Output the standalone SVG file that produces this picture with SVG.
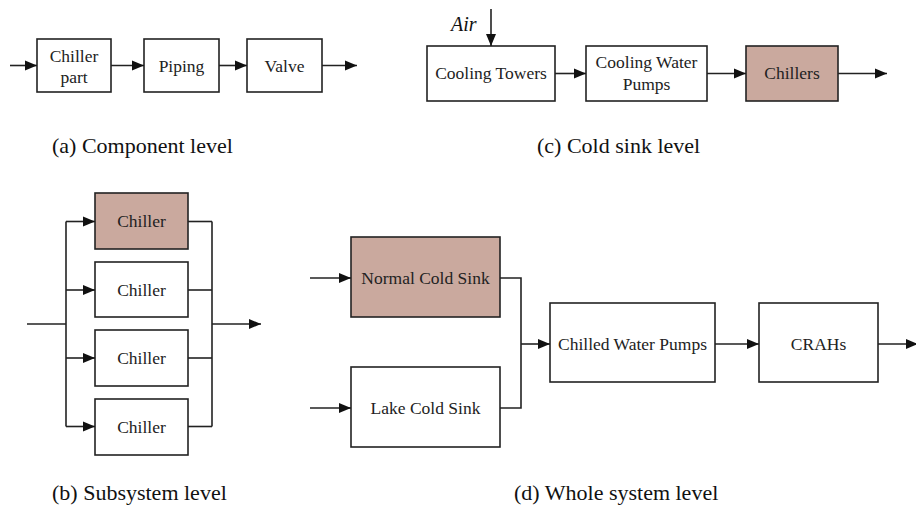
<svg xmlns="http://www.w3.org/2000/svg" width="916" height="507" viewBox="0 0 916 507">
  <style>
    .box { fill: #ffffff; stroke: #222; stroke-width: 1.6; }
    .hot { fill: #caa99e; }
    .serif { font-family: "Liberation Serif", Tinos, "Times New Roman", Times, "DejaVu Serif", serif; }
    .lbl { font-size: 17.5px; fill: #222; text-anchor: middle; }
    .cap { font-size: 22px; fill: #111; }
    .ln { fill: none; stroke: #222; stroke-width: 1.6; }
    .arr { fill: none; stroke: #222; stroke-width: 1.6; marker-end: url(#ah); }
  </style>
  <defs>
    <marker id="ah" markerUnits="userSpaceOnUse" markerWidth="12" markerHeight="12" viewBox="0 0 12 12" refX="12" refY="6" orient="auto">
      <path d="M0,1 L12,6 L0,11 Z" fill="#111"/>
    </marker>
  </defs>
  <rect width="916" height="507" fill="#ffffff"/>

  <g class="serif">
  <!-- (a) component level -->
  <g id="a-chiller-part">
    <rect class="box" x="37" y="39" width="74" height="53"/>
    <text class="lbl" x="74" y="62">Chiller</text>
    <text class="lbl" x="74" y="83">part</text>
  </g>
  <g id="a-piping">
    <rect class="box" x="144" y="39" width="75" height="53"/>
    <text class="lbl" x="181.5" y="72">Piping</text>
  </g>
  <g id="a-valve">
    <rect class="box" x="247" y="39" width="75" height="53"/>
    <text class="lbl" x="284.5" y="72">Valve</text>
  </g>

  <!-- (c) cold sink level -->
  <g id="c-cooling-towers">
    <rect class="box" x="427" y="46" width="128" height="55"/>
    <text class="lbl" x="491" y="79">Cooling Towers</text>
  </g>
  <g id="c-cooling-water-pumps">
    <rect class="box" x="586" y="46" width="121" height="55"/>
    <text class="lbl" x="646.5" y="68">Cooling Water</text>
    <text class="lbl" x="646.5" y="90">Pumps</text>
  </g>
  <g id="c-chillers">
    <rect class="box hot" x="746" y="46" width="92" height="55"/>
    <text class="lbl" x="792" y="79">Chillers</text>
  </g>
  <text id="c-air" x="451" y="31" font-style="italic" font-size="20" fill="#111">Air</text>

  <!-- (b) subsystem level -->
  <g id="b-chiller-1">
    <rect class="box hot" x="95" y="193" width="93" height="56"/>
    <text class="lbl" x="141.5" y="227">Chiller</text>
  </g>
  <g id="b-chiller-2">
    <rect class="box" x="95" y="262" width="93" height="55"/>
    <text class="lbl" x="141.5" y="296">Chiller</text>
  </g>
  <g id="b-chiller-3">
    <rect class="box" x="95" y="330" width="93" height="56"/>
    <text class="lbl" x="141.5" y="364">Chiller</text>
  </g>
  <g id="b-chiller-4">
    <rect class="box" x="95" y="399" width="93" height="56"/>
    <text class="lbl" x="141.5" y="433">Chiller</text>
  </g>

  <!-- (d) whole system level -->
  <g id="d-normal-cold-sink">
    <rect class="box hot" x="351" y="237" width="149" height="80"/>
    <text class="lbl" x="425.5" y="284">Normal Cold Sink</text>
  </g>
  <g id="d-lake-cold-sink">
    <rect class="box" x="351" y="367" width="149" height="80"/>
    <text class="lbl" x="425.5" y="414">Lake Cold Sink</text>
  </g>
  <g id="d-chilled-water-pumps">
    <rect class="box" x="550" y="303" width="165" height="79"/>
    <text class="lbl" x="632.5" y="350">Chilled Water Pumps</text>
  </g>
  <g id="d-crahs">
    <rect class="box" x="759" y="303" width="119" height="79"/>
    <text class="lbl" x="818.5" y="350">CRAHs</text>
  </g>

  <!-- captions -->
  <text class="cap" x="52" y="153">(a) Component level</text>
  <text class="cap" x="537" y="153">(c) Cold sink level</text>
  <text class="cap" x="52" y="500">(b) Subsystem level</text>
  <text class="cap" x="514" y="500">(d) Whole system level</text>
  </g>

  <!-- connectors -->
  <g id="connectors">
    <!-- (a) -->
    <line class="arr" x1="10" y1="65.5" x2="37" y2="65.5"/>
    <line class="arr" x1="111" y1="65.5" x2="144" y2="65.5"/>
    <line class="arr" x1="219" y1="65.5" x2="247" y2="65.5"/>
    <line class="arr" x1="322" y1="65.5" x2="357" y2="65.5"/>
    <!-- (c) -->
    <line class="arr" x1="491" y1="9" x2="491" y2="46"/>
    <line class="arr" x1="555" y1="73.5" x2="586" y2="73.5"/>
    <line class="arr" x1="707" y1="73.5" x2="746" y2="73.5"/>
    <line class="arr" x1="838" y1="73.5" x2="887" y2="73.5"/>
    <!-- (b) -->
    <line class="ln" x1="27" y1="324" x2="66" y2="324"/>
    <line class="ln" x1="66" y1="221.5" x2="66" y2="426.5"/>
    <line class="arr" x1="66" y1="221.5" x2="95" y2="221.5"/>
    <line class="arr" x1="66" y1="290" x2="95" y2="290"/>
    <line class="arr" x1="66" y1="358" x2="95" y2="358"/>
    <line class="arr" x1="66" y1="426.5" x2="95" y2="426.5"/>
    <line class="ln" x1="188" y1="221.5" x2="212" y2="221.5"/>
    <line class="ln" x1="188" y1="290" x2="212" y2="290"/>
    <line class="ln" x1="188" y1="358" x2="212" y2="358"/>
    <line class="ln" x1="188" y1="426.5" x2="212" y2="426.5"/>
    <line class="ln" x1="212" y1="221.5" x2="212" y2="426.5"/>
    <line class="arr" x1="212" y1="324" x2="261" y2="324"/>
    <!-- (d) -->
    <line class="arr" x1="310" y1="278" x2="351" y2="278"/>
    <line class="arr" x1="310" y1="408" x2="351" y2="408"/>
    <polyline class="ln" points="500,278 521,278 521,408 500,408"/>
    <line class="arr" x1="521" y1="344" x2="550" y2="344"/>
    <line class="arr" x1="715" y1="344" x2="759" y2="344"/>
    <line class="arr" x1="878" y1="344" x2="918" y2="344"/>
  </g>
</svg>
